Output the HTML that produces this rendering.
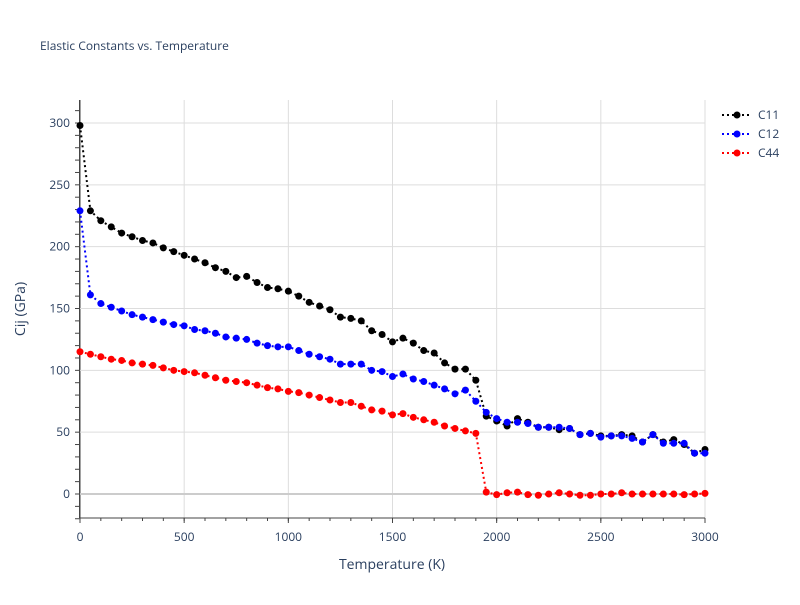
<!DOCTYPE html>
<html><head><meta charset="utf-8"><style>
body{margin:0;background:#fff;font-family:"Liberation Sans",sans-serif}
text{font-family:"Open Sans","Liberation Sans",sans-serif}
</style></head><body>
<svg id="c" width="800" height="600" xmlns="http://www.w3.org/2000/svg">
<rect width="800" height="600" fill="#fff"/>
<text x="40" y="50" font-size="12" fill="#2a3f5f">Elastic Constants vs. Temperature</text>
<g id="grid"></g><g id="axes"></g><g id="series"></g><g id="legend"></g>
<text x="392" y="569" font-size="14" fill="#2a3f5f" text-anchor="middle">Temperature (K)</text>
<text transform="translate(25,309) rotate(-90)" font-size="14" fill="#2a3f5f" text-anchor="middle">Cij (GPa)</text>
</svg>
<script>
const temps=[];for(let t=0;t<=3000;t+=50)temps.push(t);
const c11=[298,229,221,216,211,208,205,203,199,196,193,190,187,183,180,175,176,171,167,166,164,160,155,152,149,143,142,140,132,129,123,126,122,116,114,106,101,101,92,63,59,55,61,58,54,54,52,53,48,49,47,47,48,47,42,48,42,44,40,33,36];
const c12=[229,161,154,151,148,145,143,141,139,137,136,133,132,130,127,126,125,122,120,119,119,116,113,111,109,105,105,105,100,99,95,97,93,91,88,85,81,84,75,66,61,58,58,57,54,54,54,53,48,49,46,47,47,45,42,48,41,41,41,33,33];
const c44=[115,113,111,109,108,106,105,104,102,100,99,98,96,94,92,91,90,88,86,85,83,82,80,78,76,74,74,71,68,67,64,65,62,60,58,55,53,51,49,1.5,-0.5,1,1.5,-0.5,-1,0,1,0,-1,-1,0,0,1,0,0,0,0,0,-0.5,0,0.5];
const xTicks=[0,500,1000,1500,2000,2500,3000];
const yTicks=[0,50,100,150,200,250,300];
const names=["C11","C12","C44"],colors=["#000","#00f","#f00"];
const X=v=>80+v*625/3000, Y=v=>494-v*(371/300);
const NS="http://www.w3.org/2000/svg";
function mk(p,tag,a){const e=document.createElementNS(NS,tag);for(const k in a)e.setAttribute(k,a[k]);p.appendChild(e);return e;}
const grid=document.getElementById('grid'),axes=document.getElementById('axes'),ser=document.getElementById('series'),leg=document.getElementById('legend');
xTicks.forEach(t=>{const l=mk(grid,'line',{x1:X(t),x2:X(t),y1:100,y2:518,stroke:t===0?'#444':'#ddd','stroke-width':1});


const tx=mk(axes,'text',{x:X(t),y:541,'font-size':12,fill:'#2a3f5f','text-anchor':'middle'});tx.textContent=t;


mk(axes,'line',{x1:X(t),x2:X(t),y1:518,y2:523,stroke:'#444'});});
yTicks.forEach(t=>{const l=mk(grid,'line',{x1:80,x2:705,y1:Y(t),y2:Y(t),stroke:t===0?'#ccc':'#ddd','stroke-width':t===0?2:1});


const tx=mk(axes,'text',{x:70,y:Y(t)+4,'font-size':12,fill:'#2a3f5f','text-anchor':'end'});tx.textContent=t;

});
for(let v=-20;v<=310;v+=10)mk(axes,'line',{x1:75,x2:80,y1:Y(v),y2:Y(v),stroke:'#444'});
for(let v=0;v<=3000;v+=100)mk(axes,'line',{x1:X(v),x2:X(v),y1:518,y2:521,stroke:'#444'});
mk(axes,'line',{x1:79.5,x2:79.5,y1:100,y2:518,stroke:'#444'});
mk(axes,'line',{x1:80,x2:705,y1:518,y2:518,stroke:'#444'});
[c11,c12,c44].forEach((d,i)=>{const g=mk(ser,'g',{});


mk(g,'polyline',{points:d.map((v,j)=>X(temps[j])+','+Y(v)).join(' '),fill:'none',stroke:colors[i],'stroke-width':2,'stroke-dasharray':'2,3'});
d.forEach((v,j)=>{const p=mk(g,'circle',{cx:X(temps[j]),cy:Y(v),r:3.5,fill:colors[i]});

});
const ly=115+i*19;const lg=mk(leg,'g',{});


mk(lg,'line',{x1:722,x2:752,y1:ly,y2:ly,stroke:colors[i],'stroke-width':2,'stroke-dasharray':'2,3'});
mk(lg,'circle',{cx:737,cy:ly,r:3.5,fill:colors[i]});
const t=mk(lg,'text',{x:758,y:ly+4,'font-size':12,fill:'#2a3f5f'});t.textContent=names[i];});
</script>
</body></html>
